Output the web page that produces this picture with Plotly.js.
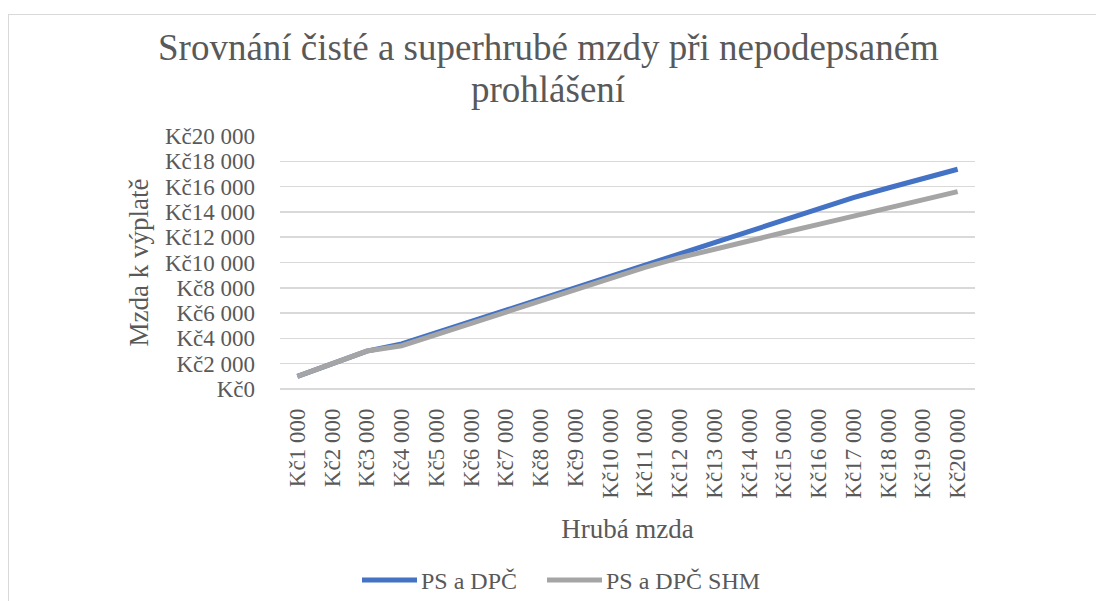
<!DOCTYPE html>
<html>
<head>
<meta charset="utf-8">
<script src="https://cdn.plot.ly/plotly-3.0.1.min.js"></script>
<style>
html,body{margin:0;padding:0;background:#fff;width:1096px;height:601px;overflow:hidden;}
#frame{position:absolute;left:8px;top:14px;width:1200px;height:700px;border:1px solid #d9d9d9;box-sizing:border-box;}
#chart{position:absolute;left:0;top:0;width:1096px;height:601px;}
</style>
</head>
<body>
<div id="frame"></div>
<div id="chart"></div>
<script>
// ---- data ----
const categories = ['Kč1 000','Kč2 000','Kč3 000','Kč4 000','Kč5 000','Kč6 000','Kč7 000','Kč8 000','Kč9 000','Kč10 000',
  'Kč11 000','Kč12 000','Kč13 000','Kč14 000','Kč15 000','Kč16 000','Kč17 000','Kč18 000','Kč19 000','Kč20 000'];
const seriesNames = ['PS a DPČ', 'PS a DPČ SHM'];
const seriesColors = ['#4472C4', '#A5A5A5'];
const psDpc = [1000,2000,3000,3560,4450,5340,6230,7120,8010,8900,9790,10680,11570,12460,13350,14240,15130,15890,16630,17370];
const psDpcShm = [1000,2000,3000,3420,4320,5200,6090,6980,7880,8780,9620,10380,11070,11720,12370,13010,13660,14300,14950,15600];
const yTickVals = [0,2000,4000,6000,8000,10000,12000,14000,16000,18000,20000];
const yTickText = ['Kč0','Kč2 000','Kč4 000','Kč6 000','Kč8 000','Kč10 000','Kč12 000','Kč14 000','Kč16 000','Kč18 000','Kč20 000'];
const titleLines = ['Srovnání čisté a superhrubé mzdy při nepodepsaném', 'prohlášení'];
const xTitle = 'Hrubá mzda';
const yTitle = 'Mzda k výplatě';

// ---- chart ----
const FONT = 'Liberation Serif';
const TXT = '#595959';
const GRID = '#d9d9d9';
const L = 280, R = 975, T = 136, B = 389;
const px = v => (v - L) / (R - L);
const py = v => (B - v) / (B - T);

const traces = [
  {x: categories, y: psDpc, name: seriesNames[0], type: 'scatter', mode: 'lines',
   line: {color: seriesColors[0], width: 5}, showlegend: false},
  {x: categories, y: psDpcShm, name: seriesNames[1], type: 'scatter', mode: 'lines',
   line: {color: seriesColors[1], width: 5}, showlegend: false}
];

// legend (drawn manually to match sample length)
const legendItems = [
  {name: seriesNames[0], color: seriesColors[0], x0: 362, x1: 417, tx: 419},
  {name: seriesNames[1], color: seriesColors[1], x0: 547, x1: 602, tx: 604}
];
const legendY = 580;
const shapes = legendItems.map(it => ({
  type: 'line', xref: 'paper', yref: 'paper', x0: px(it.x0), x1: px(it.x1), y0: py(legendY), y1: py(legendY),
  line: {color: it.color, width: 5}
}));
const annotations = [
  {text: titleLines[0], xref: 'paper', yref: 'paper', x: px(548), y: py(47),
   xanchor: 'center', yanchor: 'middle', showarrow: false, font: {family: FONT, size: 37, color: TXT}},
  {text: titleLines[1], xref: 'paper', yref: 'paper', x: px(548), y: py(90),
   xanchor: 'center', yanchor: 'middle', showarrow: false, font: {family: FONT, size: 37, color: TXT}}
].concat(legendItems.map(it => ({
  text: it.name, xref: 'paper', yref: 'paper', x: px(it.tx), y: py(legendY + 1),
  xanchor: 'left', yanchor: 'middle', showarrow: false, font: {family: FONT, size: 24, color: TXT}
})));

const layout = {
  width: 1096, height: 601,
  margin: {l: L, r: 1096 - R, t: T, b: 601 - B},
  paper_bgcolor: 'rgba(0,0,0,0)', plot_bgcolor: 'rgba(0,0,0,0)',
  font: {family: FONT, color: TXT, size: 23},
  showlegend: false,
  xaxis: {type: 'category', range: [-0.5, categories.length - 0.5], tickangle: -90,
          showgrid: false, showline: false, zeroline: false, ticks: '',
          ticklabelstandoff: 14,
          tickfont: {family: FONT, size: 23, color: TXT},
          title: {text: xTitle, font: {family: FONT, size: 27, color: TXT}, standoff: 21}},
  yaxis: {range: [0, 20000], tickvals: yTickVals, ticktext: yTickText,
          showgrid: true, gridcolor: GRID, gridwidth: 1.5,
          zeroline: true, zerolinecolor: GRID, zerolinewidth: 1.5,
          showline: false, ticks: '', ticklabelstandoff: 24,
          tickfont: {family: FONT, size: 23, color: TXT},
          title: {text: yTitle, font: {family: FONT, size: 27, color: TXT}, standoff: 8}},
  shapes: shapes,
  annotations: annotations
};

Plotly.newPlot('chart', traces, layout, {staticPlot: true, displayModeBar: false});
</script>
</body>
</html>
